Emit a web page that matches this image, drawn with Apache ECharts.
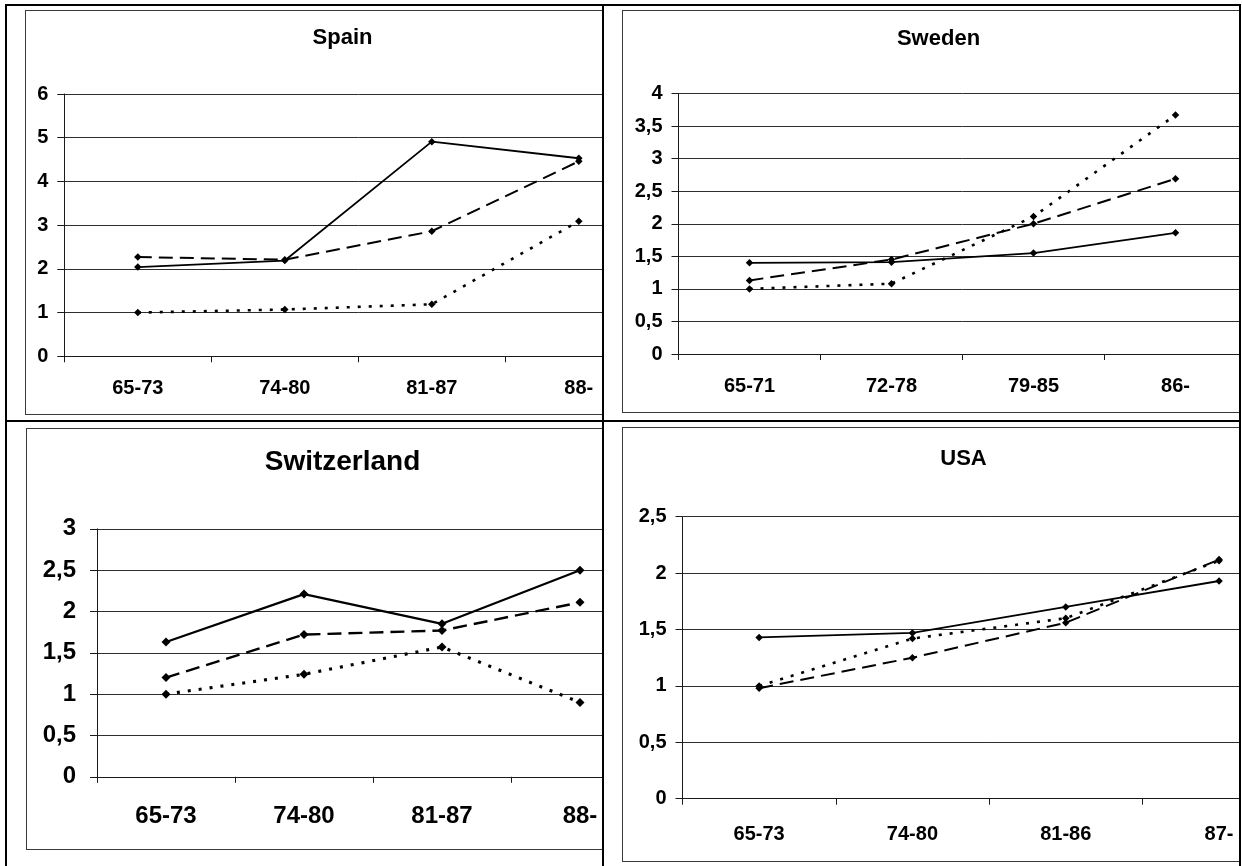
<!DOCTYPE html>
<html>
<head>
<meta charset="utf-8">
<script src="https://cdn.jsdelivr.net/npm/echarts/dist/echarts.min.js"></script>
<style>
  html, body { margin: 0; padding: 0; background: #fff; width: 1242px; height: 866px; overflow: hidden; }
  .rule { position: absolute; background: #000; }
  .cell { position: absolute; overflow: hidden; }
  .frame { position: absolute; box-sizing: border-box; border: 1px solid #3a3a3a; background: #fff; }
</style>
</head>
<body>
<script>
// ---- data ----
const spainCategories = ['65-73', '74-80', '81-87', '88-'];
const spainSolid  = [2.04, 2.19, 4.91, 4.53];
const spainDashed = [2.27, 2.21, 2.86, 4.46];
const spainDotted = [1.00, 1.07, 1.19, 3.09];
const spainYMax = 6, spainYStep = 1;

const swedenCategories = ['65-71', '72-78', '79-85', '86-'];
const swedenSolid  = [1.40, 1.41, 1.55, 1.86];
const swedenDashed = [1.13, 1.45, 2.00, 2.69];
const swedenDotted = [1.00, 1.08, 2.11, 3.67];
const swedenYMax = 4, swedenYStep = 0.5;

const switzerlandCategories = ['65-73', '74-80', '81-87', '88-'];
const switzerlandSolid  = [1.63, 2.21, 1.85, 2.50];
const switzerlandDashed = [1.20, 1.72, 1.77, 2.11];
const switzerlandDotted = [1.00, 1.24, 1.57, 0.90];
const switzerlandYMax = 3, switzerlandYStep = 0.5;

const usaCategories = ['65-73', '74-80', '81-86', '87-'];
const usaSolid  = [1.43, 1.47, 1.70, 1.93];
const usaDashed = [0.98, 1.25, 1.56, 2.12];
const usaDotted = [1.00, 1.42, 1.60, 2.11];
const usaYMax = 2.5, usaYStep = 0.5;

const FONT = '"Liberation Sans", Arial, Helvetica, sans-serif';

// ---- table rules around the four charts ----
function rule(x, y, w, h) {
  const d = document.createElement('div');
  d.className = 'rule';
  Object.assign(d.style, { left: x + 'px', top: y + 'px', width: w + 'px', height: h + 'px' });
  document.body.appendChild(d);
}

// ---- one chart panel, clipped by its table cell ----
function panel(p) {
  const cell = document.createElement('div');
  cell.className = 'cell';
  Object.assign(cell.style, {
    left: p.cell[0] + 'px', top: p.cell[1] + 'px',
    width: (p.cell[2] - p.cell[0]) + 'px', height: (p.cell[3] - p.cell[1]) + 'px'
  });
  document.body.appendChild(cell);

  // chart area width chosen so the centred title lands at titleX
  const ox = p.frameX + 1, oy = p.frameY + 1;
  const innerW = 2 * (p.titleX - ox);
  const frame = document.createElement('div');
  frame.className = 'frame';
  Object.assign(frame.style, {
    left: (p.frameX - p.cell[0]) + 'px', top: (p.frameY - p.cell[1]) + 'px',
    width: (innerW + 2) + 'px', height: (p.frameB - p.frameY + 1) + 'px'
  });
  cell.appendChild(frame);

  const k = p.scale;
  const chart = echarts.init(frame, null, { renderer: 'canvas' });
  const mk = (data, type, width) => ({
    type: 'line', data: data,
    symbol: 'diamond', symbolSize: 7.5 * k,
    itemStyle: { color: '#000' },
    lineStyle: { color: '#000', width: width * k, type: type },
    emphasis: { disabled: true },
    animation: false
  });
  chart.setOption({
    animation: false,
    title: {
      text: p.title, left: 'center', top: p.titleY - oy - p.titleSize / 2, padding: 0,
      textStyle: { fontFamily: FONT, fontSize: p.titleSize, fontWeight: 'bold', color: '#000' }
    },
    grid: {
      left: p.plot[0] - ox, top: p.plot[1] - oy,
      width: p.plot[2] - p.plot[0], height: p.plot[3] - p.plot[1],
      containLabel: false
    },
    xAxis: {
      type: 'category', data: p.categories, boundaryGap: true,
      axisLine: { show: true, lineStyle: { color: '#1a1a1a', width: 1 } },
      axisTick: { show: true, alignWithLabel: false, length: 6, lineStyle: { color: '#1a1a1a' } },
      axisLabel: {
        margin: p.xMargin, fontFamily: FONT, fontSize: p.tickSize, fontWeight: 'bold', color: '#000',
        interval: 0
      },
      splitLine: { show: false }
    },
    yAxis: {
      type: 'value', min: 0, max: p.yMax, interval: p.yStep,
      axisLine: { show: true, lineStyle: { color: '#1a1a1a', width: 1 } },
      axisTick: { show: true, length: 7, lineStyle: { color: '#1a1a1a' } },
      axisLabel: {
        margin: p.yMargin, fontFamily: FONT, fontSize: p.tickSize, fontWeight: 'bold', color: '#000',
        formatter: v => String(v).replace('.', ',')
      },
      splitLine: { show: true, lineStyle: { color: '#2e2e2e', width: 1 } }
    },
    series: [
      mk(p.dotted, [3, 8], 2.6),
      mk(p.dashed, [14, 7], 2),
      mk(p.solid, 'solid', 1.8)
    ]
  });
}

rule(5, 4, 2, 862);      // left
rule(5, 4, 1236, 2);     // top
rule(1239, 4, 2, 862);   // right
rule(602, 4, 2, 862);    // middle column
rule(5, 420, 1236, 2);   // middle row

panel({
  title: 'Spain', titleX: 342.4, titleY: 38, titleSize: 22, tickSize: 20, scale: 1,
  cell: [7, 6, 602, 420], frameX: 25, frameY: 10, frameB: 414,
  plot: [64.3, 94, 64.3 + 4 * 147, 356.3], xMargin: 22, yMargin: 16,
  categories: spainCategories, yMax: spainYMax, yStep: spainYStep,
  solid: spainSolid, dashed: spainDashed, dotted: spainDotted
});

panel({
  title: 'Sweden', titleX: 938.5, titleY: 39, titleSize: 22, tickSize: 20, scale: 1,
  cell: [604, 6, 1239, 420], frameX: 622, frameY: 10, frameB: 412,
  plot: [678.5, 93.5, 678.5 + 4 * 142, 354], xMargin: 22.5, yMargin: 16,
  categories: swedenCategories, yMax: swedenYMax, yStep: swedenYStep,
  solid: swedenSolid, dashed: swedenDashed, dotted: swedenDotted
});

panel({
  title: 'Switzerland', titleX: 342.5, titleY: 461.7, titleSize: 28, tickSize: 24, scale: 1.2,
  cell: [7, 422, 602, 866], frameX: 26, frameY: 427.5, frameB: 848.5,
  plot: [97, 528.3, 97 + 4 * 138, 776.3], xMargin: 28, yMargin: 21,
  categories: switzerlandCategories, yMax: switzerlandYMax, yStep: switzerlandYStep,
  solid: switzerlandSolid, dashed: switzerlandDashed, dotted: switzerlandDotted
});

panel({
  title: 'USA', titleX: 963.7, titleY: 459.2, titleSize: 22, tickSize: 20, scale: 1,
  cell: [604, 422, 1239, 866], frameX: 622, frameY: 427, frameB: 860.5,
  plot: [682.5, 516.7, 682.5 + 4 * 153.3, 798.7], xMargin: 25.5, yMargin: 16,
  categories: usaCategories, yMax: usaYMax, yStep: usaYStep,
  solid: usaSolid, dashed: usaDashed, dotted: usaDotted
});
</script>
</body>
</html>
